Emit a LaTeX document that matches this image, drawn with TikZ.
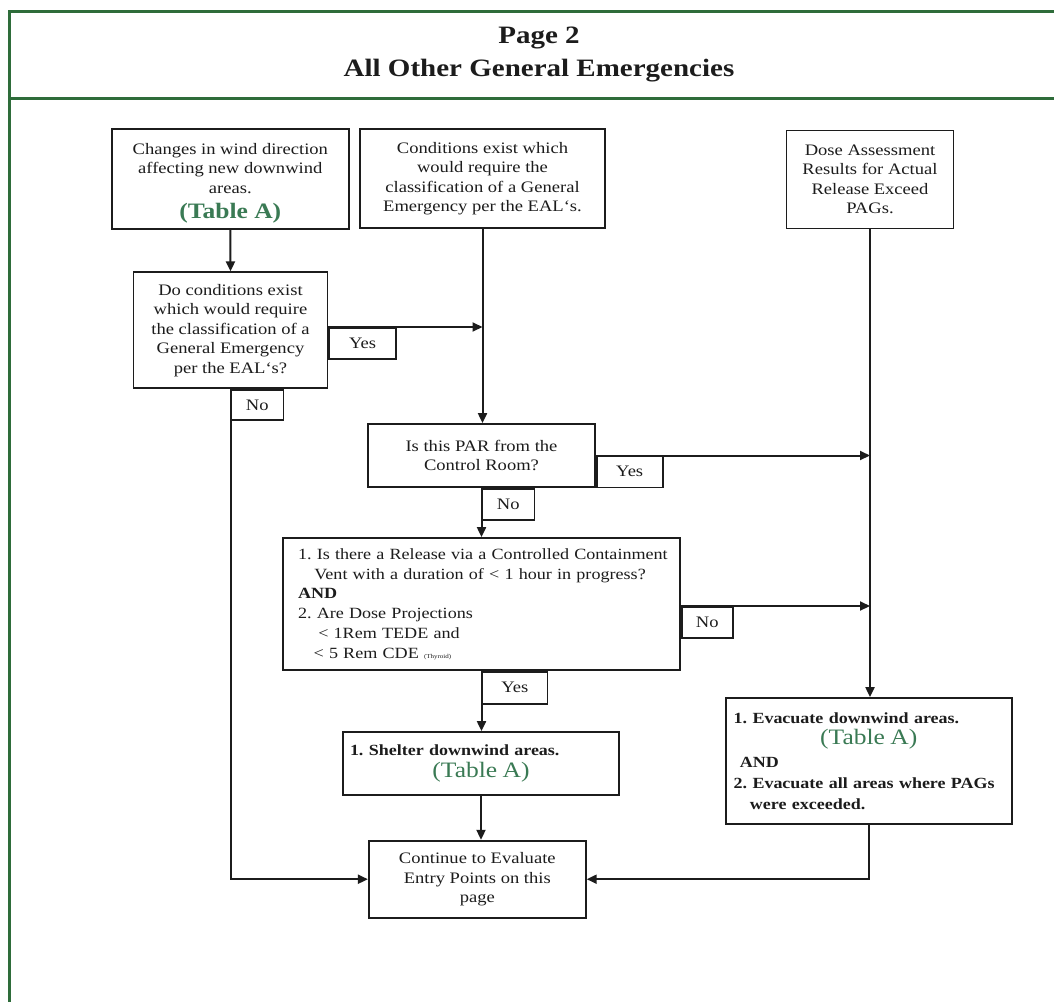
\documentclass[tikz,border=0pt]{standalone}
\usepackage{fontspec}
\setmainfont{Liberation Serif}[FakeStretch=1.16]
\usetikzlibrary{arrows.meta}
\definecolor{framegreen}{RGB}{46,108,58}
\definecolor{tablegreen}{RGB}{58,122,84}
\definecolor{ink}{RGB}{28,28,28}
\newcommand\TabA[1][\bfseries]{{\color{tablegreen}\fontsize{22}{24}\selectfont #1(Table A)}}
\frenchspacing
\begin{document}
\begin{tikzpicture}[x=1pt,y=-1pt,
  wh/.style 2 args={minimum width=#1pt, minimum height=#2pt},
  box/.style={draw=ink, line width=1.8pt, rectangle, inner sep=0pt, align=center,
    font=\fontsize{16}{19.5}\selectfont, text=ink},
  lbl/.style={draw=ink, line width=1.6pt, rectangle, inner sep=0pt, anchor=north west,
    font=\fontsize{16}{19}\selectfont, text=ink},
  link/.style={draw=ink, line width=2pt},
  arr/.style={link, -{Triangle[length=10pt,width=9pt]}},
  frame/.style={draw=framegreen, line width=3pt}
]
% page area
\fill[white] (0,0) rectangle (1054,1001);
\useasboundingbox (0,0) rectangle (1054,1001);
\begin{scope}
  \clip (0,0) rectangle (1054,1001);
  \draw[frame] (9,1012) -- (9,11) -- (1070,11);
  \draw[frame] (9,98) -- (1070,98);
\end{scope}

% heading
\node[font=\fontsize{25}{33}\selectfont\bfseries, text=ink, align=center] (title) at (539,54)
  {Page 2\\All Other General Emergencies};

% entry points
\node[box, wh={237}{100}] (wind) at (230.3,179.3)
  {\rule{0pt}{19pt}Changes in wind direction\\affecting new downwind\\areas.\\[6pt]\TabA};
\node[box, wh={245}{99}] (cond) at (482.5,178.7)
  {Conditions exist which\\would require the\\classification of a General\\Emergency per the EAL`s.};
\node[box, wh={167}{98}] (dose) at (870,179.5)
  {Dose Assessment\\Results for Actual\\Release Exceed\\PAGs.};

% decisions
\node[box, wh={194}{116}] (exist) at (230.5,330.3)
  {Do conditions exist\\which would require\\the classification of a\\General Emergency\\per the EAL`s?};
\node[box, wh={227}{63}] (par) at (481.5,455.5)
  {Is this PAR from the\\Control Room?};
\node[box, wh={397}{132}, text width=381pt, inner xsep=8pt, align=left,
      font=\fontsize{15.6}{19.7}\selectfont] (vent) at (481.5,604)
  {\hspace*{7pt}1. Is there a Release via a Controlled Containment\\
   \hspace*{7pt}\hspace*{1.05em}Vent with a duration of < 1 hour in progress?\\
   \hspace*{7pt}\textbf{AND}\\
   \hspace*{7pt}2. Are Dose Projections\\
   \hspace*{7pt}\hspace*{1.3em}< 1Rem TEDE and\\
   \hspace*{7pt}\hspace*{1.0em}< 5 Rem CDE {\fontsize{6}{6}\selectfont (Thyroid)}};

% actions
\node[box, wh={276}{63}, text width=262pt, inner xsep=7pt] (shelter) at (481,763.5)
  {\raggedright\fontsize{15.5}{21}\selectfont\bfseries 1. Shelter downwind areas.\par
   \vspace{1pt}\centering\TabA[\mdseries]\par};
\node[box, wh={286}{126}, text width=270pt, inner xsep=8pt] (evac) at (868.7,761)
  {\fontsize{15.5}{21}\selectfont\bfseries
   \raggedright 1. Evacuate downwind areas.\par
   \centering\TabA[\mdseries]\par
   \vspace{2pt}
   \raggedright\hspace*{0.4em}AND\par
   2. Evacuate all areas where PAGs\\
   \hspace*{1.05em}were exceeded.\par};
\node[box, wh={217}{77}] (cont) at (477.3,879.2)
  {Continue to Evaluate\\Entry Points on this\\page};

% branch labels
\node[lbl, wh={67}{31}] (yesA) at (exist.east |- 0,327) {Yes};
\node[lbl, wh={52}{30}] (noA) at (exist.south) {No};
\node[lbl, wh={66}{31}] (yesB) at (par.east) {Yes};
\node[lbl, wh={52}{31}] (noB) at (par.south) {No};
\node[lbl, wh={51}{31}] (noC) at (vent.east |- 0,606) {No};
\node[lbl, wh={65}{32}] (yesC) at (vent.south) {Yes};

% connectors
\draw[arr] (wind.south) -- (exist.north);
\draw[arr] (cond.south) -- (cond.south |- par.north);
\draw[arr] (yesA.north west) -- (cond.south |- yesA.north);
\draw[arr] (noA.north west) |- (cont.west);
\draw[arr] (yesB.north west) -- (dose.south |- yesB.north);
\draw[arr] (noB.north west) -- (vent.north);
\draw[arr] (noC.north west) -- (dose.south |- noC.north);
\draw[arr] (yesC.north west) -- (yesC.north west |- shelter.north);
\draw[arr] (shelter.south) -- (shelter.south |- cont.north);
\draw[arr] (dose.south) -- (dose.south |- evac.north);
\draw[arr] (evac.south) |- (cont.east);
\end{tikzpicture}
\end{document}
